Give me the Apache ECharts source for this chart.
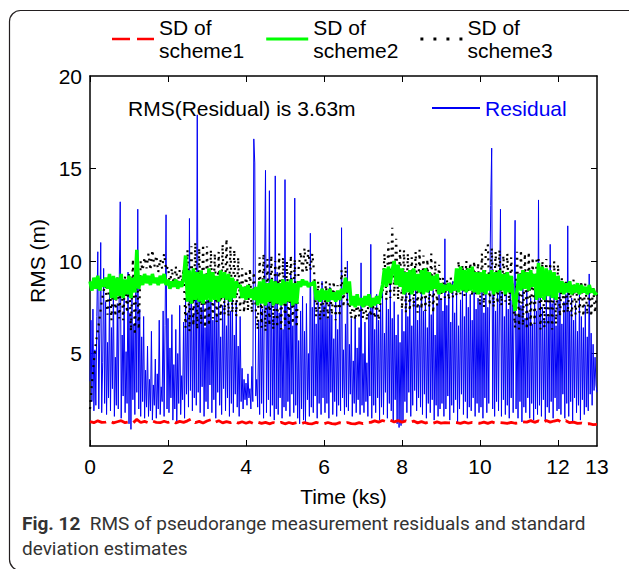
<!DOCTYPE html>
<html>
<head>
<meta charset="utf-8">
<title>RMS of pseudorange measurement residuals</title>
<script src="https://cdn.jsdelivr.net/npm/echarts@6.0.0/dist/echarts.min.js"></script>
<style>
  html, body { margin: 0; padding: 0; background: #fff; }
  #chart { width: 629px; height: 569px; }
</style>
</head>
<body>
<div id="chart"></div>
<script>
// sampling steps of the series, in ks
const RES_STEP = 0.025;
const SD_STEP = 0.05;
const SD1_STEP = 0.1;

const xLabelValues = [0, 2, 4, 6, 8, 10, 12, 13];
const xTickValues = [0, 2, 4, 6, 8, 10, 12];
const yLabelValues = [5, 10, 15, 20];
const yTickValues = [5, 10, 15];

// residual RMS (m), one row per ks
const residual = [
  3.5, 6.8, 2.4, 7.4, 1.9, 5.2, 2.2, 7.0, 10.5, 2.0, 6.1, 11.0, 1.8, 4.5, 9.6, 2.3, 7.8, 1.7, 5.6, 2.6,
  8.2, 1.9, 6.4, 3.1, 8.6, 1.6, 4.8, 2.2, 7.7, 2.0, 8.9, 13.2, 1.5, 6.0, 2.7, 8.4, 1.8, 5.1, 2.3, 9.4,
  1.2, 7.2, 0.9, 8.1, 2.5, 6.6, 1.7, 8.8, 2.9, 12.8, 2.0, 7.4, 1.6, 5.9, 2.4, 7.0, 1.5, 4.1, 2.1, 5.4,
  1.6, 3.6, 1.9, 6.2, 1.4, 3.3, 2.2, 4.7, 1.5, 3.9, 2.0, 6.8, 1.7, 3.2, 2.4, 7.3, 1.6, 6.5, 12.5, 2.0,
  6.9, 1.8, 5.3, 2.6, 7.1, 1.4, 4.4, 2.0, 6.3, 1.3, 5.0, 2.3, 7.6, 1.7, 3.8, 2.5, 6.7, 1.5, 8.0, 2.8,
  7.2, 2.1, 12.3, 3.0, 8.5, 1.9, 7.0, 2.6, 9.1, 2.2, 17.9, 2.9, 8.3, 1.8, 7.5, 3.2, 9.0, 1.6, 6.4, 2.4,
  8.7, 2.0, 7.9, 3.3, 9.0, 1.8, 6.8, 2.5, 8.4, 1.5, 7.1, 2.9, 8.8, 2.2, 5.9, 1.7, 7.6, 3.1, 8.2, 1.9,
  6.5, 2.6, 8.9, 1.6, 7.3, 2.3, 8.1, 1.8, 6.0, 2.8, 7.8, 2.1, 5.4, 1.6, 7.0, 2.4, 4.2, 2.0, 3.6, 2.5,
  3.4, 2.2, 3.9, 2.6, 3.1, 2.0, 4.3, 2.4, 16.6, 15.3, 2.7, 3.6, 2.1, 6.8, 1.7, 8.3, 2.3, 7.4, 1.5, 9.1,
  14.9, 1.8, 7.7, 2.5, 13.8, 1.6, 8.6, 2.2, 6.9, 1.4, 14.6, 2.0, 9.4, 1.7, 7.2, 2.6, 8.8, 1.5, 6.3, 2.1,
  14.4, 1.9, 8.2, 2.4, 7.0, 1.6, 9.3, 2.8, 6.5, 1.8, 13.4, 2.2, 7.8, 1.5, 5.7, 1.2, 7.3, 2.0, 8.1, 1.4,
  6.2, 1.3, 7.7, 2.5, 5.0, 1.6, 11.5, 2.1, 7.5, 1.8, 8.6, 2.7, 6.6, 1.5, 8.0, 2.3, 7.2, 1.7, 8.9, 2.6,
  7.6, 1.8, 8.4, 2.3, 6.9, 1.5, 8.6, 2.9, 7.1, 1.7, 5.8, 2.4, 7.9, 1.6, 6.3, 2.2, 8.1, 1.9, 11.8, 2.6,
  5.2, 1.7, 6.6, 2.1, 10.0, 1.9, 5.5, 2.8, 6.9, 1.6, 4.6, 2.3, 7.0, 1.8, 5.3, 2.5, 6.4, 1.7, 9.9, 2.2,
  5.0, 1.8, 6.7, 2.4, 4.5, 1.6, 7.2, 2.7, 10.9, 1.5, 7.9, 2.2, 6.3, 1.8, 8.2, 2.6, 6.8, 1.4, 7.7, 2.1,
  8.5, 1.7, 6.1, 2.9, 8.0, 1.5, 7.4, 2.3, 8.7, 1.9, 6.9, 1.3, 7.8, 2.5, 6.0, 1.2, 7.1, 1.0, 5.6, 1.1,
  7.4, 1.3, 6.2, 2.4, 8.3, 1.8, 7.0, 2.9, 8.8, 1.6, 6.5, 2.2, 7.9, 3.0, 8.5, 1.9, 6.8, 2.6, 7.6, 2.1,
  9.5, 1.7, 7.3, 2.8, 8.1, 1.5, 6.4, 2.3, 8.7, 1.8, 7.1, 2.5, 8.4, 1.4, 6.0, 2.2, 7.7, 1.6, 8.2, 2.0,
  8.0, 2.3, 7.3, 1.6, 11.2, 2.0, 7.6, 2.7, 8.5, 1.4, 6.7, 2.2, 8.9, 1.8, 7.2, 2.5, 8.3, 1.3, 6.5, 2.0,
  7.9, 2.8, 8.6, 1.7, 7.0, 2.4, 9.0, 1.5, 7.5, 2.1, 8.2, 1.9, 6.8, 2.6, 8.7, 1.6, 7.4, 2.3, 8.0, 1.8,
  7.8, 2.1, 8.4, 1.5, 7.2, 2.6, 8.9, 1.8, 7.5, 2.3, 8.1, 13.0, 16.1, 2.0, 8.6, 1.6, 7.3, 2.4, 9.0, 1.9,
  7.7, 12.8, 1.6, 8.3, 2.5, 7.0, 1.7, 8.8, 2.2, 7.4, 1.5, 8.5, 2.6, 7.9, 1.8, 8.2, 12.2, 2.0, 7.1, 1.5,
  8.3, 2.4, 7.6, 1.3, 8.7, 2.1, 6.9, 1.8, 8.4, 2.6, 7.2, 1.5, 8.0, 2.3, 6.6, 1.4, 8.6, 2.0, 7.3, 1.7,
  13.3, 2.2, 8.1, 1.6, 7.5, 2.5, 6.8, 1.4, 8.2, 2.1, 7.0, 1.8, 10.9, 2.4, 7.7, 1.5, 8.4, 2.6, 6.5, 1.9,
  7.9, 2.0, 8.5, 1.7, 6.6, 2.8, 7.8, 1.5, 8.2, 2.3, 11.9, 1.6, 7.3, 2.4, 8.0, 1.3, 6.8, 2.6, 7.7, 1.8,
  6.2, 2.2, 8.3, 1.4, 7.0, 2.5, 6.4, 1.7, 7.6, 2.1, 5.9, 1.9, 9.3, 2.8, 6.1, 2.2, 5.5, 3.0, 4.8, 3.3,
  2.9
];

// SD of scheme1 (m)
const sdScheme1 = [
  1.32, 1.26, 1.36, 1.28, 1.29, 1.35, 1.25, 1.31, 1.37, 1.26,
  1.30, 1.24, 1.44, 1.27, 1.33, 1.25, 1.35, 1.28, 1.26, 1.34,
  1.27, 1.35, 1.25, 1.33, 1.28, 1.36, 1.47, 1.26, 1.33, 1.24,
  1.35, 1.42, 1.27, 1.37, 1.25, 1.32, 1.26, 1.34, 1.24, 1.31,
  1.23, 1.30, 1.21, 1.29, 1.22, 1.28, 1.20, 1.27, 1.21, 1.28,
  1.20, 1.27, 1.21, 1.26, 1.19, 1.27, 1.21, 1.20, 1.28, 1.22,
  1.20, 1.27, 1.21, 1.19, 1.26, 1.20, 1.27, 1.21, 1.20, 1.26,
  1.21, 1.28, 1.28, 1.36, 1.29, 1.38, 1.31, 1.40, 1.30, 1.37,
  1.29, 1.36, 1.27, 1.35, 1.25, 1.32, 1.24, 1.31, 1.23, 1.30,
  1.24, 1.26, 1.25, 1.27, 1.26, 1.22, 1.29, 1.23, 1.28, 1.26,
  1.23, 1.29, 1.22, 1.30, 1.24, 1.27, 1.25, 1.22, 1.28, 1.23,
  1.25, 1.31, 1.29, 1.37, 1.28, 1.36, 1.27, 1.38, 1.29, 1.35,
  1.40, 1.28, 1.37, 1.26, 1.29, 1.22, 1.24, 1.19, 1.21, 1.16,
  1.17
];

// SD of scheme2 (m)
const sdScheme2 = [
  8.9, 8.4, 9.1, 8.5, 9.2, 8.4, 9.0, 8.6, 9.1, 8.5, 9.3, 8.0, 9.2, 7.9, 9.1, 8.1, 9.3, 8.0, 9.0, 8.2,
  9.2, 8.0, 9.1, 8.3, 10.6, 8.5, 9.2, 8.7, 9.3, 8.8, 9.2, 8.7, 9.3, 8.8, 9.1, 8.7, 9.2, 8.8, 9.3, 8.7,
  9.0, 8.5, 8.9, 8.6, 9.0, 8.5, 8.9, 8.6, 9.0, 10.3, 7.8, 9.5, 7.7, 9.6, 7.9, 9.4, 7.8, 9.5, 7.7, 9.3,
  7.9, 9.6, 7.8, 9.4, 7.9, 9.2, 7.8, 9.5, 8.0, 9.4, 7.9, 9.3, 7.8, 9.1, 8.0, 8.9, 8.6, 8.7, 8.0, 8.6,
  7.9, 8.7, 8.0, 8.5, 7.9, 8.6, 7.6, 8.9, 7.7, 9.0, 7.6, 8.8, 7.8, 9.0, 7.6, 8.9, 7.7, 8.8, 7.6, 9.0,
  7.7, 8.9, 7.8, 9.0, 7.6, 8.8, 7.7, 8.9, 8.6, 9.0, 8.7, 8.9, 8.6, 8.8, 8.7, 8.9, 7.9, 8.4, 7.8, 8.5,
  7.9, 8.4, 7.8, 8.5, 7.9, 8.3, 7.8, 8.4, 7.9, 8.5, 8.2, 9.1, 8.3, 8.9, 7.6, 8.1, 7.5, 8.2, 7.6, 8.0,
  7.5, 8.1, 7.6, 8.2, 7.5, 8.0, 7.6, 8.1, 7.7, 8.2, 8.7, 9.6, 8.6, 9.7, 8.8, 9.5, 10.0, 8.7, 9.8, 8.6,
  9.6, 8.2, 9.4, 8.3, 9.5, 8.2, 9.6, 8.4, 9.3, 8.3, 9.5, 8.2, 9.6, 8.3, 9.4, 8.4, 9.2, 8.5, 9.3, 8.2,
  8.8, 8.3, 8.7, 8.4, 8.8, 8.3, 8.7, 8.4, 9.6, 8.3, 9.7, 8.4, 9.5, 8.3, 9.6, 8.4, 9.7, 8.3, 9.4, 8.2,
  9.4, 8.3, 9.5, 8.2, 9.3, 8.4, 9.5, 8.2, 9.4, 8.3, 9.5, 8.4, 9.3, 8.2, 9.4, 8.3, 9.2, 8.1, 7.3, 8.4,
  9.3, 8.4, 9.5, 8.5, 9.4, 8.4, 9.5, 8.6, 9.3, 7.9, 9.9, 8.0, 9.7, 7.9, 9.6, 8.1, 9.5, 8.0, 9.4, 7.9,
  9.2, 8.3, 8.9, 8.2, 8.8, 8.3, 8.9, 8.2, 8.7, 8.3, 8.8, 8.2, 8.7, 8.3, 8.6, 8.2, 8.7, 8.3, 8.5, 8.2,
  8.3
];

// SD of scheme3 (m)
const sdScheme3 = [
  2.0, 3.4, 4.6, 5.6, 6.2, 7.0, 7.8, 8.4, 8.7, 7.1, 9.2, 6.8, 9.3, 7.0, 9.1, 6.9, 9.3, 6.8, 9.2, 7.2,
  9.3, 6.2, 10.1, 6.0, 10.3, 6.3, 10.0, 9.5, 10.2, 9.6, 10.4, 9.5, 10.6, 9.7, 10.3, 9.4, 10.1, 9.6, 10.4, 9.5,
  9.7, 8.7, 9.6, 8.6, 9.7, 8.8, 9.5, 8.7, 9.6, 6.4, 10.6, 6.2, 10.8, 6.5, 11.0, 6.3, 10.7, 6.6, 10.9, 6.4,
  10.8, 6.5, 10.6, 6.9, 10.4, 6.7, 10.5, 6.8, 10.9, 7.1, 11.2, 7.0, 10.8, 7.2, 10.6, 7.0, 10.2, 7.3, 9.6, 7.2,
  9.5, 7.3, 9.6, 7.2, 9.4, 7.4, 6.3, 10.2, 6.4, 10.4, 6.2, 10.1, 6.5, 10.3, 6.3, 10.0, 6.4, 10.4, 6.3, 10.2,
  6.5, 10.0, 6.3, 10.3, 6.6, 10.1, 6.4, 9.6, 10.5, 9.3, 10.7, 9.4, 10.6, 9.5, 10.4, 9.3, 7.0, 8.9, 6.8, 8.8,
  7.0, 8.9, 6.9, 8.8, 7.1, 8.9, 6.8, 8.7, 7.0, 9.5, 7.5, 9.7, 7.6, 7.8, 6.9, 7.9, 6.8, 7.8, 7.0, 7.9,
  6.9, 7.8, 6.8, 7.9, 7.0, 7.7, 6.9, 7.8, 6.8, 7.9, 8.2, 10.4, 7.9, 11.0, 8.0, 11.8, 8.1, 11.2, 7.9, 10.6,
  7.4, 10.6, 7.2, 10.4, 7.3, 10.2, 7.5, 10.5, 7.2, 10.6, 7.4, 10.3, 7.3, 10.1, 7.5, 10.4, 7.2, 10.0, 7.6, 9.8,
  7.9, 9.1, 8.0, 9.0, 7.9, 9.1, 8.0, 8.9, 8.1, 10.0, 8.2, 9.8, 8.1, 10.0, 8.3, 9.9, 8.1, 10.0, 8.2, 9.9,
  7.6, 10.4, 7.5, 10.6, 10.9, 7.6, 10.7, 7.5, 10.5, 7.7, 10.6, 7.6, 10.3, 7.8, 10.4, 7.6, 10.2, 7.7, 6.4, 10.5,
  6.3, 10.6, 6.5, 10.4, 6.3, 10.5, 6.4, 10.2, 6.6, 10.1, 10.2, 6.3, 10.0, 6.4, 10.1, 6.5, 9.9, 6.3, 10.0, 6.6,
  9.8, 7.0, 9.1, 7.1, 9.0, 7.2, 8.9, 7.0, 9.0, 7.1, 8.8, 7.2, 8.9, 7.0, 8.8, 7.1, 8.7, 7.0, 8.6, 7.2,
  8.4
];

const FONT = '"Liberation Sans", Arial, sans-serif';
const CAPTION_FONT = 'Roboto, "Noto Sans", sans-serif';
const BLUE = '#0000f5';

function withTime(values, step) {
  return values.map((v, i) => [+(i * step).toFixed(3), v]);
}

const chart = echarts.init(document.getElementById('chart'), null, { renderer: 'svg' });

const axisLine = { show: true, onZero: false, lineStyle: { color: '#000', width: 1.5 } };
const tickStyle = { color: '#000', width: 1 };

const option = {
  animation: false,
  backgroundColor: '#fff',
  title: {
    text: 'RMS(Residual) is 3.63m',
    left: 128,
    top: 96.5,
    padding: 0,
    textStyle: { fontFamily: FONT, fontSize: 21, fontWeight: 'normal', color: '#000', lineHeight: 23 }
  },
  legend: [
    {
      data: [
        { name: 'SD of scheme1', icon: 'path://M0,0h18v2.5h-18z M25,0h17v2.5h-17z' },
        { name: 'SD of scheme2', icon: 'path://M0,0h42v3h-42z' },
        { name: 'SD of scheme3', icon: 'path://M0,0h2.5v2.5h-2.5z M11,0h2.5v2.5h-2.5z M22,0h2.5v2.5h-2.5z M33,0h2.5v2.5h-2.5z' }
      ],
      left: 112,
      top: 4.5,
      padding: 0,
      itemWidth: 42,
      itemHeight: 3,
      itemGap: 22,
      formatter: name => name.replace(' scheme', '\nscheme'),
      textStyle: { fontFamily: FONT, fontSize: 21, lineHeight: 23, color: '#000', padding: [23, 0, 0, 0] }
    },
    {
      data: [{ name: 'Residual', icon: 'path://M0,0h48v2h-48z' }],
      left: 432,
      top: 96.5,
      padding: 0,
      itemWidth: 48,
      itemHeight: 3,
      textStyle: { fontFamily: FONT, fontSize: 21, lineHeight: 23, color: BLUE }
    }
  ],
  grid: { left: 90, right: 32, top: 76, bottom: 123 },
  xAxis: [
    {
      type: 'value', min: 0, max: 13, position: 'bottom',
      name: 'Time (ks)', nameLocation: 'middle', nameGap: 40,
      nameTextStyle: { fontFamily: FONT, fontSize: 21, color: '#000' },
      axisLine,
      axisTick: { inside: true, length: 6, customValues: xTickValues, lineStyle: tickStyle },
      axisLabel: { customValues: xLabelValues, fontFamily: FONT, fontSize: 21, color: '#000', margin: 10 },
      splitLine: { show: false }
    },
    {
      type: 'value', min: 0, max: 13, position: 'top',
      axisLine,
      axisTick: { inside: true, length: 6, customValues: xTickValues, lineStyle: tickStyle },
      axisLabel: { show: false },
      splitLine: { show: false }
    }
  ],
  yAxis: [
    {
      type: 'value', min: 0, max: 20, position: 'left',
      name: 'RMS (m)', nameLocation: 'middle', nameGap: 31,
      nameTextStyle: { fontFamily: FONT, fontSize: 21, color: '#000' },
      axisLine,
      axisTick: { inside: true, length: 6, customValues: yTickValues, lineStyle: tickStyle },
      axisLabel: { customValues: yLabelValues, fontFamily: FONT, fontSize: 21, color: '#000', margin: 8 },
      splitLine: { show: false }
    },
    {
      type: 'value', min: 0, max: 20, position: 'right',
      axisLine,
      axisTick: { inside: true, length: 6, customValues: yTickValues, lineStyle: tickStyle },
      axisLabel: { show: false },
      splitLine: { show: false }
    }
  ],
  series: [
    {
      name: 'Residual', type: 'line', symbol: 'none',
      data: withTime(residual, RES_STEP),
      lineStyle: { color: BLUE, width: 1 },
      itemStyle: { color: BLUE },
      z: 2
    },
    {
      name: 'SD of scheme3', type: 'line', symbol: 'none',
      data: withTime(sdScheme3, SD_STEP),
      lineStyle: { color: '#000', width: 2.2, type: [2, 5] },
      itemStyle: { color: '#000' },
      z: 3
    },
    {
      name: 'SD of scheme2', type: 'line', symbol: 'none',
      data: withTime(sdScheme2, SD_STEP),
      lineStyle: { color: '#00ff00', width: 3.5 },
      itemStyle: { color: '#00ff00' },
      z: 4
    },
    {
      name: 'SD of scheme1', type: 'line', symbol: 'none',
      data: withTime(sdScheme1, SD1_STEP),
      lineStyle: { color: '#ff0000', width: 2.8, type: [17, 6] },
      itemStyle: { color: '#ff0000' },
      z: 5
    }
  ],
  graphic: [
    {
      type: 'rect', silent: true, z: -10,
      shape: { x: 9.5, y: 10.5, width: 680, height: 560, r: 11 },
      style: { fill: 'none', stroke: '#231f20', lineWidth: 1.2 }
    },
    {
      type: 'text', left: 22, top: 510.5, silent: true,
      style: {
        text: '{b|Fig. 12}  RMS of pseudorange measurement residuals and standard\ndeviation estimates',
        fontFamily: CAPTION_FONT,
        fontSize: 19,
        lineHeight: 25,
        fill: '#333',
        rich: { b: { fontWeight: 'bold', fontSize: 19, fontFamily: CAPTION_FONT, fill: '#333', lineHeight: 25 } }
      }
    }
  ]
};

chart.setOption(option);
window.addEventListener('resize', () => chart.resize());
</script>
</body>
</html>
